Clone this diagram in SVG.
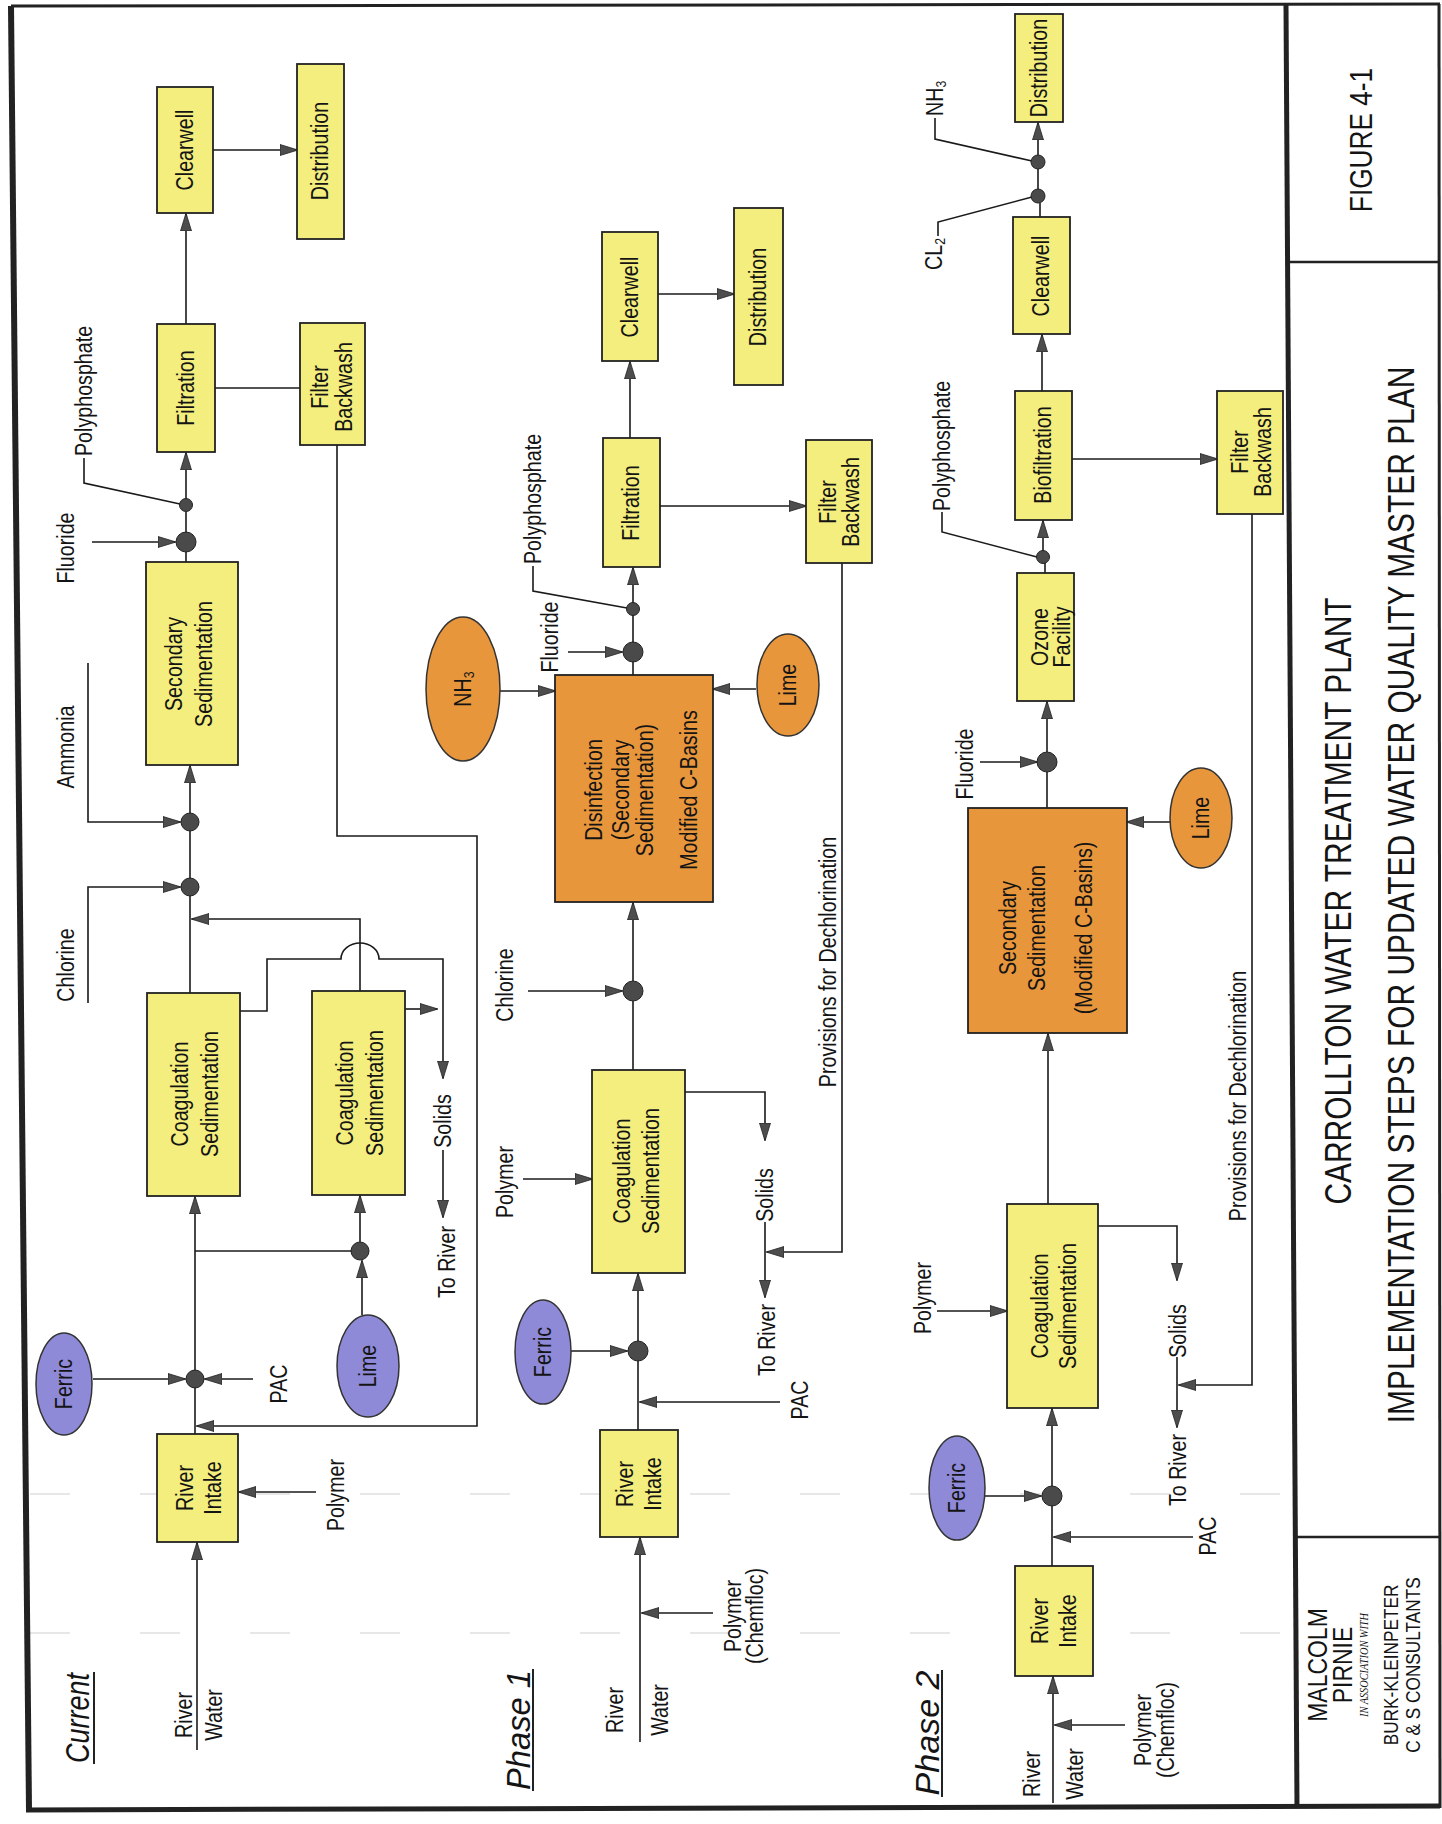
<svg xmlns="http://www.w3.org/2000/svg" width="1442" height="1824" viewBox="0 0 1442 1824">
<style>
.t{font-family:"Liberation Sans",Arial,sans-serif;font-size:24px;text-anchor:middle;dominant-baseline:central;fill:#141414}
.st{text-anchor:start}.en{text-anchor:end}
.ttl{font-size:36.5px}.fig{font-size:32px}.mp{font-size:28px}.bk{font-size:21px}
.ia{font-family:"Liberation Serif",serif;font-style:italic;font-size:12px;text-anchor:middle;dominant-baseline:central;fill:#141414}
.ph{font-family:"Liberation Sans",Arial,sans-serif;font-style:italic;font-size:33px;text-anchor:middle;dominant-baseline:central;fill:#141414}
.c{fill:none;stroke:#1a1a1a;stroke-width:1.6}
.a{marker-end:url(#ar)}
.y{fill:#f3ee7d;stroke:#222;stroke-width:1.8}
.o{fill:#e8963c;stroke:#222;stroke-width:1.8}
.pe{fill:#8e8ad8;stroke:#333;stroke-width:1.5}
.oe{fill:#e8963c;stroke:#333;stroke-width:1.5}
.d{fill:#4a4a4a;stroke:#222;stroke-width:1}
.b{stroke:#222;fill:none}
.fold{stroke:#cfcfcf;stroke-width:1.2;stroke-dasharray:40 70;fill:none}
</style>
<defs>
<marker id="ar" viewBox="0 0 18 12" markerWidth="18" markerHeight="12" refX="17" refY="6" orient="auto" markerUnits="userSpaceOnUse"><path d="M0,0.5 L18,6 L0,11.5 Z" fill="#4d4d4d" stroke="#222" stroke-width="0.8"/></marker>
</defs>
<rect width="1442" height="1824" fill="#ffffff"/>
<g id="frame">
<line class="fold" x1="30" y1="1494" x2="1290" y2="1494"/>
<line class="fold" x1="30" y1="1633" x2="1290" y2="1633"/>
<line class="b" x1="11" y1="6" x2="1440" y2="4" stroke-width="3"/>
<line class="b" x1="11" y1="6" x2="29" y2="1810" stroke-width="6"/>
<line class="b" x1="26" y1="1810" x2="1440" y2="1806" stroke-width="5"/>
<line class="b" x1="1439" y1="4" x2="1440" y2="1808" stroke-width="3"/>
<line class="b" x1="1286" y1="5" x2="1297" y2="1808" stroke-width="5"/>
<line class="b" x1="1287" y1="262" x2="1439" y2="262" stroke-width="2.5"/>
<line class="b" x1="1295" y1="1537" x2="1439" y2="1537" stroke-width="2.5"/>
</g>
<g id="title-block">
<text class="t fig" transform="translate(1361 140) rotate(-90) scale(.82 1)">FIGURE 4-1</text>
<text class="t ttl" transform="translate(1338 901) rotate(-90) scale(.82 1)">CARROLLTON WATER TREATMENT PLANT</text>
<text class="t ttl" transform="translate(1401 895) rotate(-90) scale(.82 1)">IMPLEMENTATION STEPS FOR UPDATED WATER QUALITY MASTER PLAN</text>
<text class="t mp" transform="translate(1317 1665) rotate(-90) scale(.82 1)">MALCOLM</text>
<text class="t mp" transform="translate(1342 1665) rotate(-90) scale(.82 1)">PIRNIE</text>
<text class="ia" transform="translate(1364 1665) rotate(-90)" textLength="104" lengthAdjust="spacingAndGlyphs">IN ASSOCIATION WITH</text>
<text class="t bk" transform="translate(1391 1665) rotate(-90) scale(.82 1)">BURK-KLEINPETER</text>
<text class="t bk" transform="translate(1413 1665) rotate(-90) scale(.82 1)">C &amp; S CONSULTANTS</text>
</g>
<g id="connectors">
<!-- Current -->
<path class="c a" d="M197,1750 V1543"/>
<path class="c a" d="M316,1492 H239"/>
<path class="c a" d="M195,1434 V1197"/>
<path class="c a" d="M93,1379 H185"/>
<path class="c a" d="M253,1379 H205"/>
<path class="c a" d="M337,445 V836 H477 V1426 H197"/>
<path class="c" d="M195,1251 H360"/>
<path class="c a" d="M362,1315 V1261"/>
<path class="c a" d="M360,1242 V1196"/>
<path class="c a" d="M190,993 V766"/>
<path class="c a" d="M360,991 V919 H192"/>
<path class="c a" d="M88,1003 V887 H180"/>
<path class="c a" d="M88,663 V822 H180"/>
<path class="c a" d="M240,1011 H267 V959 H341 A19,16 0 0 1 379,959 H443 V1078"/>
<path class="c a" d="M443,1150 V1217"/>
<path class="c a" d="M405,1009 H437"/>
<path class="c" d="M186,562 V512"/>
<path class="c a" d="M186,505 V453"/>
<path class="c a" d="M92,542 H175"/>
<path class="c" d="M180,504 L84,483 V458"/>
<path class="c a" d="M186,324 V214"/>
<path class="c" d="M215,388 H300"/>
<path class="c a" d="M213,150 H297"/>
<!-- Phase 1 -->
<path class="c a" d="M640,1742 V1538"/>
<path class="c a" d="M713,1613 H642"/>
<path class="c a" d="M638,1430 V1274"/>
<path class="c a" d="M780,1402 H640"/>
<path class="c a" d="M571,1351 H627"/>
<path class="c" d="M633,1070 V1001"/>
<path class="c a" d="M633,981 V903"/>
<path class="c a" d="M528,991 H622"/>
<path class="c a" d="M523,1179 H592"/>
<path class="c a" d="M685,1092 H765 V1140"/>
<path class="c a" d="M765,1222 V1297"/>
<path class="c a" d="M842,563 V1252 H767"/>
<path class="c" d="M633,675 V615"/>
<path class="c a" d="M633,603 V568"/>
<path class="c a" d="M568,652 H622"/>
<path class="c" d="M627,608 L533,591 V566"/>
<path class="c a" d="M500,691 H555"/>
<path class="c a" d="M756,689 H713"/>
<path class="c a" d="M630,438 V362"/>
<path class="c a" d="M660,506 H806"/>
<path class="c a" d="M658,294 H734"/>
<!-- Phase 2 -->
<path class="c a" d="M1053,1803 V1677"/>
<path class="c a" d="M1125,1725 H1055"/>
<path class="c a" d="M1052,1566 V1409"/>
<path class="c a" d="M1193,1537 H1054"/>
<path class="c a" d="M985,1496 H1041"/>
<path class="c a" d="M1048,1204 V1034"/>
<path class="c a" d="M937,1311 H1007"/>
<path class="c a" d="M1098,1226 H1177 V1280"/>
<path class="c a" d="M1177,1357 V1427"/>
<path class="c a" d="M1252,514 V1385 H1179"/>
<path class="c a" d="M1170,822 H1127"/>
<path class="c" d="M1047,808 V772"/>
<path class="c a" d="M1047,752 V702"/>
<path class="c a" d="M980,762 H1037"/>
<path class="c" d="M1045,573 V562"/>
<path class="c a" d="M1043,552 V521"/>
<path class="c" d="M1037,557 L942,532 V512"/>
<path class="c a" d="M1042,391 V335"/>
<path class="c a" d="M1072,459 H1217"/>
<path class="c" d="M1040,217 V203"/>
<path class="c" d="M1038,189 V169"/>
<path class="c a" d="M1038,155 V123"/>
<path class="c" d="M1032,197 L938,222 V236"/>
<path class="c" d="M1032,161 L935,139 V118"/>
</g>
<!-- ===== Current ===== -->
<g id="current-label">
<text class="ph" transform="translate(77 1718) rotate(-90)" textLength="90" lengthAdjust="spacingAndGlyphs">Current</text>
<line class="b" x1="94" y1="1672" x2="94" y2="1764" stroke-width="2"/>
<text class="t" transform="translate(184 1715) rotate(-90) scale(.82 1)">River</text>
<text class="t" transform="translate(214 1715) rotate(-90) scale(.82 1)">Water</text>
</g>
<g id="c-intake"><rect class="y" x="157" y="1434" width="81" height="108"/>
<text class="t" transform="translate(185 1488) rotate(-90) scale(.82 1)">River</text>
<text class="t" transform="translate(213 1488) rotate(-90) scale(.82 1)">Intake</text></g>
<g id="c-polymer"><text class="t" transform="translate(336 1495) rotate(-90) scale(.82 1)">Polymer</text></g>
<g id="c-ferric"><ellipse class="pe" cx="64" cy="1384" rx="28" ry="51"/>
<text class="t" transform="translate(64 1384) rotate(-90) scale(.82 1)">Ferric</text></g>
<g id="c-pac"><text class="t" transform="translate(279 1384) rotate(-90) scale(.82 1)">PAC</text></g>
<g id="c-lime"><ellipse class="pe" cx="368" cy="1366" rx="31" ry="51"/>
<text class="t" transform="translate(368 1366) rotate(-90) scale(.82 1)">Lime</text></g>
<g id="c-coag1"><rect class="y" x="147" y="993" width="93" height="203"/>
<text class="t" transform="translate(180 1094) rotate(-90) scale(.82 1)">Coagulation</text>
<text class="t" transform="translate(210 1094) rotate(-90) scale(.82 1)">Sedimentation</text></g>
<g id="c-coag2"><rect class="y" x="312" y="991" width="93" height="204"/>
<text class="t" transform="translate(345 1093) rotate(-90) scale(.82 1)">Coagulation</text>
<text class="t" transform="translate(375 1093) rotate(-90) scale(.82 1)">Sedimentation</text></g>
<g id="c-solids"><text class="t" transform="translate(443 1121) rotate(-90) scale(.82 1)">Solids</text>
<text class="t" transform="translate(447 1262) rotate(-90) scale(.82 1)">To River</text></g>
<g id="c-chem">
<text class="t" transform="translate(66 965) rotate(-90) scale(.82 1)">Chlorine</text>
<text class="t" transform="translate(66 747) rotate(-90) scale(.82 1)">Ammonia</text>
<text class="t" transform="translate(66 548) rotate(-90) scale(.82 1)">Fluoride</text>
<text class="t st" transform="translate(84 456) rotate(-90) scale(.82 1)">Polyphosphate</text></g>
<g id="c-secsed"><rect class="y" x="146" y="562" width="92" height="203"/>
<text class="t" transform="translate(174 664) rotate(-90) scale(.82 1)">Secondary</text>
<text class="t" transform="translate(204 664) rotate(-90) scale(.82 1)">Sedimentation</text></g>
<g id="c-filtration"><rect class="y" x="157" y="324" width="58" height="128"/>
<text class="t" transform="translate(186 388) rotate(-90) scale(.82 1)">Filtration</text></g>
<g id="c-backwash"><rect class="y" x="300" y="323" width="65" height="122"/>
<text class="t" transform="translate(320 387) rotate(-90) scale(.82 1)">Filter</text>
<text class="t" transform="translate(344 387) rotate(-90) scale(.82 1)">Backwash</text></g>
<g id="c-clearwell"><rect class="y" x="157" y="87" width="56" height="126"/>
<text class="t" transform="translate(185 150) rotate(-90) scale(.82 1)">Clearwell</text></g>
<g id="c-distribution"><rect class="y" x="297" y="64" width="47" height="175"/>
<text class="t" transform="translate(320 151) rotate(-90) scale(.82 1)">Distribution</text></g>
<g id="c-dots">
<circle class="d" cx="195" cy="1379" r="9"/><circle class="d" cx="360" cy="1251" r="9"/>
<circle class="d" cx="190" cy="887" r="9"/><circle class="d" cx="190" cy="822" r="9"/>
<circle class="d" cx="186" cy="542" r="10"/><circle class="d" cx="186" cy="505" r="6.5"/></g>
<!-- ===== Phase 1 ===== -->
<g id="phase1-label">
<text class="ph" transform="translate(518 1730) rotate(-90)" textLength="120" lengthAdjust="spacingAndGlyphs">Phase 1</text>
<line class="b" x1="533" y1="1669" x2="533" y2="1791" stroke-width="2"/>
<text class="t" transform="translate(615 1710) rotate(-90) scale(.82 1)">River</text>
<text class="t" transform="translate(660 1710) rotate(-90) scale(.82 1)">Water</text>
<text class="t" transform="translate(733 1616) rotate(-90) scale(.82 1)">Polymer</text>
<text class="t" transform="translate(755 1616) rotate(-90) scale(.82 1)">(Chemfloc)</text></g>
<g id="p1-intake"><rect class="y" x="600" y="1430" width="78" height="107"/>
<text class="t" transform="translate(625 1484) rotate(-90) scale(.82 1)">River</text>
<text class="t" transform="translate(653 1484) rotate(-90) scale(.82 1)">Intake</text></g>
<g id="p1-pac"><text class="t" transform="translate(800 1400) rotate(-90) scale(.82 1)">PAC</text></g>
<g id="p1-ferric"><ellipse class="pe" cx="543" cy="1352" rx="28" ry="52"/>
<text class="t" transform="translate(543 1352) rotate(-90) scale(.82 1)">Ferric</text></g>
<g id="p1-coag"><rect class="y" x="592" y="1070" width="93" height="203"/>
<text class="t" transform="translate(622 1171) rotate(-90) scale(.82 1)">Coagulation</text>
<text class="t" transform="translate(651 1171) rotate(-90) scale(.82 1)">Sedimentation</text></g>
<g id="p1-solids"><text class="t" transform="translate(765 1195) rotate(-90) scale(.82 1)">Solids</text>
<text class="t" transform="translate(767 1340) rotate(-90) scale(.82 1)">To River</text></g>
<g id="p1-chem">
<text class="t" transform="translate(505 1182) rotate(-90) scale(.82 1)">Polymer</text>
<text class="t" transform="translate(505 985) rotate(-90) scale(.82 1)">Chlorine</text>
<text class="t" transform="translate(550 637) rotate(-90) scale(.82 1)">Fluoride</text>
<text class="t st" transform="translate(533 564) rotate(-90) scale(.82 1)">Polyphosphate</text>
<text class="t" transform="translate(828 962) rotate(-90) scale(.82 1)">Provisions for Dechlorination</text></g>
<g id="p1-disinfection"><rect class="o" x="555" y="675" width="158" height="227"/>
<text class="t" transform="translate(594 790) rotate(-90) scale(.82 1)">Disinfection</text>
<text class="t" transform="translate(621 790) rotate(-90) scale(.82 1)">(Secondary</text>
<text class="t" transform="translate(645 790) rotate(-90) scale(.82 1)">Sedimentation)</text>
<text class="t" transform="translate(689 790) rotate(-90) scale(.82 1)">Modified C-Basins</text></g>
<g id="p1-nh3"><ellipse class="oe" cx="463" cy="689" rx="37" ry="72"/>
<text class="t" transform="translate(463 689) rotate(-90) scale(.82 1)">NH<tspan dy="6" font-size="15">3</tspan></text></g>
<g id="p1-lime"><ellipse class="oe" cx="788" cy="685" rx="31" ry="51"/>
<text class="t" transform="translate(788 685) rotate(-90) scale(.82 1)">Lime</text></g>
<g id="p1-filtration"><rect class="y" x="603" y="438" width="57" height="129"/>
<text class="t" transform="translate(631 503) rotate(-90) scale(.82 1)">Filtration</text></g>
<g id="p1-backwash"><rect class="y" x="806" y="440" width="66" height="123"/>
<text class="t" transform="translate(828 502) rotate(-90) scale(.82 1)">Filter</text>
<text class="t" transform="translate(851 502) rotate(-90) scale(.82 1)">Backwash</text></g>
<g id="p1-clearwell"><rect class="y" x="602" y="232" width="56" height="129"/>
<text class="t" transform="translate(630 297) rotate(-90) scale(.82 1)">Clearwell</text></g>
<g id="p1-distribution"><rect class="y" x="734" y="208" width="49" height="177"/>
<text class="t" transform="translate(758 297) rotate(-90) scale(.82 1)">Distribution</text></g>
<g id="p1-dots">
<circle class="d" cx="638" cy="1351" r="10"/><circle class="d" cx="633" cy="991" r="10"/>
<circle class="d" cx="633" cy="652" r="10"/><circle class="d" cx="633" cy="609" r="6.5"/></g>
<!-- ===== Phase 2 ===== -->
<g id="phase2-label">
<text class="ph" transform="translate(927 1733) rotate(-90)" textLength="125" lengthAdjust="spacingAndGlyphs">Phase 2</text>
<line class="b" x1="942" y1="1670" x2="942" y2="1797" stroke-width="2"/>
<text class="t" transform="translate(1032 1774) rotate(-90) scale(.82 1)">River</text>
<text class="t" transform="translate(1075 1774) rotate(-90) scale(.82 1)">Water</text>
<text class="t" transform="translate(1143 1730) rotate(-90) scale(.82 1)">Polymer</text>
<text class="t" transform="translate(1166 1730) rotate(-90) scale(.82 1)">(Chemfloc)</text></g>
<g id="p2-intake"><rect class="y" x="1015" y="1566" width="78" height="110"/>
<text class="t" transform="translate(1040 1621) rotate(-90) scale(.82 1)">River</text>
<text class="t" transform="translate(1068 1621) rotate(-90) scale(.82 1)">Intake</text></g>
<g id="p2-pac"><text class="t" transform="translate(1208 1536) rotate(-90) scale(.82 1)">PAC</text></g>
<g id="p2-ferric"><ellipse class="pe" cx="957" cy="1488" rx="28" ry="52"/>
<text class="t" transform="translate(957 1488) rotate(-90) scale(.82 1)">Ferric</text></g>
<g id="p2-coag"><rect class="y" x="1007" y="1204" width="91" height="204"/>
<text class="t" transform="translate(1040 1306) rotate(-90) scale(.82 1)">Coagulation</text>
<text class="t" transform="translate(1068 1306) rotate(-90) scale(.82 1)">Sedimentation</text></g>
<g id="p2-solids"><text class="t" transform="translate(1178 1331) rotate(-90) scale(.82 1)">Solids</text>
<text class="t" transform="translate(1178 1470) rotate(-90) scale(.82 1)">To River</text></g>
<g id="p2-chem">
<text class="t" transform="translate(923 1298) rotate(-90) scale(.82 1)">Polymer</text>
<text class="t" transform="translate(965 764) rotate(-90) scale(.82 1)">Fluoride</text>
<text class="t st" transform="translate(942 511) rotate(-90) scale(.82 1)">Polyphosphate</text>
<text class="t en" transform="translate(934 238) rotate(-90) scale(.82 1)">CL<tspan dy="6" font-size="15">2</tspan></text>
<text class="t st" transform="translate(935 116) rotate(-90) scale(.82 1)">NH<tspan dy="6" font-size="15">3</tspan></text>
<text class="t" transform="translate(1238 1096) rotate(-90) scale(.82 1)">Provisions for Dechlorination</text></g>
<g id="p2-secsed"><rect class="o" x="968" y="808" width="159" height="225"/>
<text class="t" transform="translate(1008 928) rotate(-90) scale(.82 1)">Secondary</text>
<text class="t" transform="translate(1037 928) rotate(-90) scale(.82 1)">Sedimentation</text>
<text class="t" transform="translate(1084 928) rotate(-90) scale(.82 1)">(Modified C-Basins)</text></g>
<g id="p2-lime"><ellipse class="oe" cx="1201" cy="818" rx="31" ry="50"/>
<text class="t" transform="translate(1201 818) rotate(-90) scale(.82 1)">Lime</text></g>
<g id="p2-ozone"><rect class="y" x="1017" y="573" width="57" height="128"/>
<text class="t" transform="translate(1040 637) rotate(-90) scale(.82 1)">Ozone</text>
<text class="t" transform="translate(1062 637) rotate(-90) scale(.82 1)">Facility</text></g>
<g id="p2-biofiltration"><rect class="y" x="1015" y="391" width="57" height="129"/>
<text class="t" transform="translate(1043 455) rotate(-90) scale(.82 1)">Biofiltration</text></g>
<g id="p2-backwash"><rect class="y" x="1217" y="391" width="66" height="123"/>
<text class="t" transform="translate(1240 452) rotate(-90) scale(.82 1)">Filter</text>
<text class="t" transform="translate(1263 452) rotate(-90) scale(.82 1)">Backwash</text></g>
<g id="p2-clearwell"><rect class="y" x="1013" y="217" width="57" height="117"/>
<text class="t" transform="translate(1041 276) rotate(-90) scale(.82 1)">Clearwell</text></g>
<g id="p2-distribution"><rect class="y" x="1015" y="14" width="48" height="108"/>
<text class="t" transform="translate(1039 68) rotate(-90) scale(.82 1)">Distribution</text></g>
<g id="p2-dots">
<circle class="d" cx="1052" cy="1496" r="10"/><circle class="d" cx="1047" cy="762" r="10"/>
<circle class="d" cx="1043" cy="557" r="6.5"/><circle class="d" cx="1038" cy="196" r="7"/><circle class="d" cx="1038" cy="162" r="7"/></g>
</svg>
